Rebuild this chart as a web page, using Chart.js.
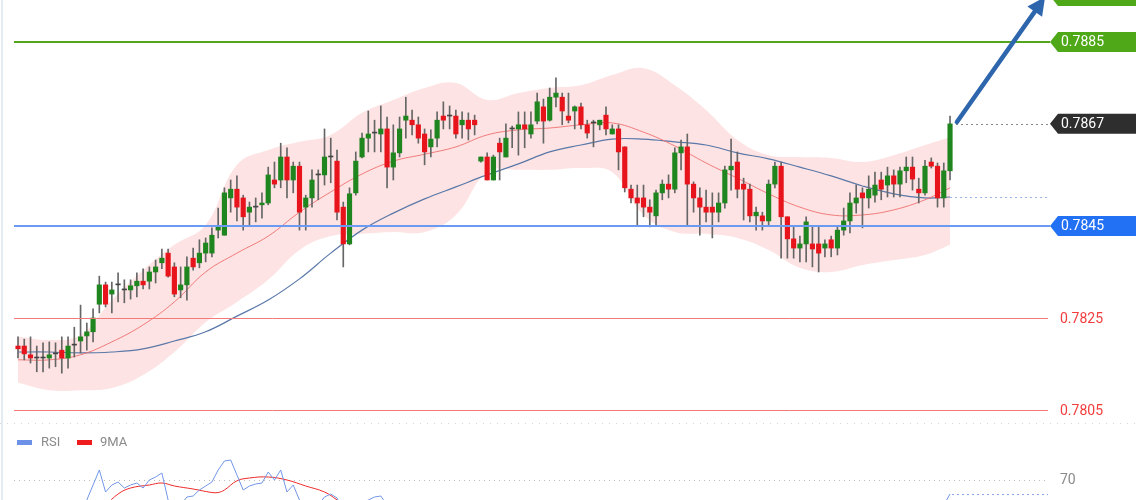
<!DOCTYPE html>
<html>
<head>
<meta charset="utf-8">
<script src="https://cdn.jsdelivr.net/npm/chart.js@4.4.1/dist/chart.umd.min.js"></script>
<style>
html, body { margin: 0; padding: 0; background: #fff; }
#wrap { width: 1140px; height: 500px; position: relative; }
</style>
</head>
<body>
<div id="wrap"><canvas id="myChart"></canvas></div>
<script>
// candles (oldest first)
const open = [
0.78189,0.78189,0.78170,0.78163,0.78163,0.78163,0.78172,0.78180,0.78163,0.78191,
0.78200,0.78211,0.78220,0.78280,0.78322,0.78302,0.78322,0.78311,0.78311,0.78320,
0.78330,0.78330,0.78350,0.78370,0.78391,0.78361,0.78311,0.78322,0.78380,0.78370,
0.78391,0.78391,0.78441,0.78430,0.78511,0.78530,0.78511,0.78480,0.78491,0.78496,
0.78500,0.78550,0.78550,0.78600,0.78550,0.78580,0.78491,0.78511,0.78561,0.78561,
0.78600,0.78591,0.78491,0.78411,0.78522,0.78600,0.78641,0.78652,0.78650,0.78661,
0.78578,0.78609,0.78680,0.78680,0.78670,0.78650,0.78622,0.78641,0.78689,0.78689,
0.78689,0.78670,0.78680,0.78680,0.78591,0.78600,0.78550,0.78630,0.78600,0.78661,
0.78661,0.78670,0.78650,0.78678,0.78709,0.78680,0.78730,0.78730,0.78689,0.78700,
0.78709,0.78670,0.78674,0.78670,0.78691,0.78650,0.78661,0.78622,0.78530,0.78511,
0.78511,0.78491,0.78472,0.78522,0.78541,0.78530,0.78609,0.78622,0.78541,0.78511,
0.78491,0.78491,0.78480,0.78500,0.78572,0.78589,0.78541,0.78530,0.78472,0.78472,
0.78461,0.78541,0.78580,0.78470,0.78422,0.78402,0.78411,0.78411,0.78411,0.78402,
0.78420,0.78402,0.78441,0.78461,0.78500,0.78522,0.78511,0.78517,0.78550,0.78539,
0.78559,0.78541,0.78570,0.78578,0.78530,0.78522,0.78589,0.78580,0.78511,0.78570];
const high = [
0.78209,0.78204,0.78209,0.78189,0.78196,0.78198,0.78196,0.78209,0.78209,0.78230,
0.78278,0.78239,0.78270,0.78341,0.78328,0.78328,0.78348,0.78333,0.78333,0.78348,
0.78357,0.78361,0.78376,0.78400,0.78400,0.78370,0.78361,0.78383,0.78402,0.78420,
0.78424,0.78446,0.78489,0.78533,0.78550,0.78559,0.78517,0.78502,0.78511,0.78522,
0.78578,0.78589,0.78630,0.78620,0.78589,0.78589,0.78517,0.78572,0.78572,0.78661,
0.78641,0.78615,0.78502,0.78533,0.78611,0.78652,0.78700,0.78680,0.78711,0.78687,
0.78670,0.78687,0.78730,0.78702,0.78687,0.78661,0.78659,0.78698,0.78720,0.78711,
0.78702,0.78698,0.78696,0.78691,0.78600,0.78609,0.78604,0.78641,0.78672,0.78667,
0.78698,0.78698,0.78698,0.78739,0.78726,0.78750,0.78772,0.78739,0.78739,0.78711,
0.78717,0.78680,0.78680,0.78680,0.78709,0.78670,0.78670,0.78622,0.78539,0.78539,
0.78539,0.78507,0.78528,0.78550,0.78561,0.78620,0.78637,0.78650,0.78546,0.78533,
0.78528,0.78522,0.78522,0.78580,0.78639,0.78611,0.78554,0.78541,0.78491,0.78480,
0.78550,0.78589,0.78589,0.78470,0.78448,0.78428,0.78470,0.78448,0.78448,0.78420,
0.78428,0.78448,0.78489,0.78522,0.78539,0.78533,0.78559,0.78567,0.78567,0.78578,
0.78572,0.78578,0.78600,0.78600,0.78554,0.78593,0.78598,0.78587,0.78587,0.78689];
const low = [
0.78163,0.78159,0.78152,0.78133,0.78133,0.78141,0.78144,0.78130,0.78141,0.78165,
0.78174,0.78180,0.78198,0.78261,0.78274,0.78261,0.78285,0.78283,0.78291,0.78296,
0.78313,0.78313,0.78326,0.78357,0.78339,0.78296,0.78294,0.78289,0.78354,0.78359,
0.78372,0.78383,0.78424,0.78430,0.78480,0.78461,0.78441,0.78450,0.78459,0.78467,
0.78496,0.78533,0.78533,0.78511,0.78522,0.78441,0.78441,0.78491,0.78507,0.78539,
0.78544,0.78463,0.78361,0.78409,0.78517,0.78598,0.78611,0.78611,0.78611,0.78533,
0.78550,0.78600,0.78641,0.78648,0.78630,0.78583,0.78600,0.78622,0.78661,0.78661,
0.78641,0.78641,0.78637,0.78648,0.78589,0.78550,0.78550,0.78550,0.78600,0.78620,
0.78604,0.78620,0.78641,0.78672,0.78630,0.78678,0.78709,0.78670,0.78674,0.78661,
0.78661,0.78641,0.78622,0.78659,0.78648,0.78650,0.78572,0.78524,0.78500,0.78452,
0.78470,0.78448,0.78450,0.78507,0.78511,0.78522,0.78572,0.78450,0.78480,0.78430,
0.78459,0.78424,0.78459,0.78489,0.78528,0.78511,0.78463,0.78459,0.78441,0.78441,
0.78452,0.78533,0.78380,0.78380,0.78380,0.78372,0.78372,0.78361,0.78350,0.78383,
0.78383,0.78387,0.78430,0.78435,0.78478,0.78446,0.78489,0.78502,0.78507,0.78513,
0.78513,0.78513,0.78544,0.78528,0.78500,0.78517,0.78576,0.78491,0.78491,0.78550];
const close = [
0.78183,0.78172,0.78163,0.78163,0.78165,0.78170,0.78174,0.78163,0.78189,0.78191,
0.78209,0.78220,0.78250,0.78322,0.78280,0.78311,0.78322,0.78311,0.78320,0.78330,
0.78322,0.78350,0.78361,0.78380,0.78341,0.78302,0.78322,0.78361,0.78361,0.78391,
0.78413,0.78430,0.78448,0.78522,0.78530,0.78491,0.78470,0.78491,0.78491,0.78500,
0.78561,0.78541,0.78600,0.78550,0.78580,0.78480,0.78511,0.78550,0.78561,0.78600,
0.78600,0.78480,0.78411,0.78520,0.78591,0.78641,0.78650,0.78652,0.78661,0.78578,
0.78609,0.78661,0.78689,0.78670,0.78641,0.78611,0.78639,0.78680,0.78680,0.78689,
0.78650,0.78680,0.78661,0.78670,0.78600,0.78550,0.78600,0.78611,0.78641,0.78661,
0.78670,0.78661,0.78670,0.78720,0.78678,0.78730,0.78739,0.78700,0.78680,0.78709,
0.78670,0.78652,0.78674,0.78680,0.78661,0.78661,0.78611,0.78533,0.78511,0.78500,
0.78491,0.78480,0.78522,0.78541,0.78530,0.78609,0.78622,0.78541,0.78511,0.78491,
0.78480,0.78480,0.78500,0.78572,0.78580,0.78530,0.78530,0.78472,0.78480,0.78461,
0.78541,0.78580,0.78470,0.78422,0.78402,0.78411,0.78459,0.78400,0.78391,0.78411,
0.78402,0.78441,0.78461,0.78500,0.78511,0.78511,0.78530,0.78539,0.78530,0.78559,
0.78541,0.78570,0.78578,0.78552,0.78522,0.78580,0.78580,0.78511,0.78570,0.78672];

// bollinger band + averages, read every 5 candles
const bandIdx = [0,5,10,15,20,25,30,35,40,45,50,55,60,65,70,75,80,85,90,95,100,105,110,115,120,125,130,135,140,145,149];
const upperBand = [0.78209,0.78202,0.78213,0.78289,0.78354,0.78409,0.78452,0.78583,0.78615,0.78633,0.78648,0.78696,0.78724,0.78750,0.78761,0.78724,0.78739,0.78750,0.78756,0.78778,0.78793,0.78756,0.78702,0.78637,0.78604,0.78600,0.78598,0.78589,0.78604,0.78626,0.78643];
const lowerBand = [0.78109,0.78093,0.78093,0.78098,0.78126,0.78176,0.78241,0.78285,0.78333,0.78398,0.78428,0.78433,0.78437,0.78437,0.78474,0.78567,0.78572,0.78572,0.78576,0.78567,0.78474,0.78437,0.78433,0.78424,0.78398,0.78359,0.78350,0.78365,0.78376,0.78387,0.78409];
const midLine = [0.78159,0.78159,0.78170,0.78198,0.78235,0.78285,0.78350,0.78391,0.78428,0.78480,0.78524,0.78563,0.78591,0.78606,0.78622,0.78648,0.78659,0.78663,0.78670,0.78674,0.78654,0.78624,0.78587,0.78554,0.78520,0.78491,0.78474,0.78474,0.78485,0.78507,0.78533];
const slowLine = [0.78176,0.78176,0.78174,0.78176,0.78183,0.78200,0.78220,0.78254,0.78289,0.78335,0.78391,0.78441,0.78478,0.78509,0.78535,0.78561,0.78585,0.78611,0.78626,0.78639,0.78639,0.78633,0.78626,0.78609,0.78596,0.78578,0.78559,0.78537,0.78520,0.78511,0.78513];

// RSI panel (only the part that shows)
const rsiIdx = [10,11,12,13,14,15,16,17,18,19,20,21,22,23,24,25,26,27,28,29,30,31,32,33,34,35,36,37,38,39,40,41,42,43,44,45,46,47,48,49,50,51,52,53,54,55,56,57,58,59,60,100,146,147,148,149];
const rsiVal = [52,58,67,76,62.8,67,68.8,65.2,67,68.2,65.2,70,71.8,74.2,58,50.8,55,59.8,60.4,64,66.4,68.8,76,81.4,82,73,64,66.4,67.6,68.2,74.8,70,76,62.8,67,58,52,50,55,59.8,61.6,59.2,52,48,52,56,58,59.8,60.4,55,50,null,45,49,55,61.6];
const maIdx = [13,14,16,18,21,23,25,28,31,32,33,35,37,40,43,46,49,51,53,56];
const maVal = [49,54.4,61.6,65.2,67,68.2,66.4,64.6,62.5,62.5,64,69.5,71.2,71.8,70,66.4,62.8,58,52,45];
const rsiLevel = 70;

// price levels and the forecast arrow
const resistances = [0.7895, 0.7885];
const supports = [0.7845];
const minorLevels = [0.7825, 0.7805];
const arrowX = [150.1, 164.2];
const arrowY = [0.78676, 0.78948];

const idx = open.map((_, i) => i);
const pts = (xs, ys) => xs.map((v, k) => ({x: v, y: ys[k]}));

function tag(ctx, yp, text, color) {
    ctx.fillStyle = color;
    ctx.beginPath();
    ctx.moveTo(1050, yp);
    ctx.lineTo(1058, yp - 10);
    ctx.lineTo(1136, yp - 10);
    ctx.lineTo(1136, yp + 10);
    ctx.lineTo(1058, yp + 10);
    ctx.closePath();
    ctx.fill();
    ctx.fillStyle = '#fff';
    ctx.fillText(text, 1061, yp + 1);
}

function hline(ctx, yp, x0, x1, color, width, dash) {
    ctx.save();
    ctx.strokeStyle = color;
    ctx.lineWidth = width;
    ctx.setLineDash(dash || []);
    ctx.beginPath();
    ctx.moveTo(x0, yp);
    ctx.lineTo(x1, yp);
    ctx.stroke();
    ctx.restore();
}

const overlay = {
    id: 'overlay',
    beforeDatasetsDraw(chart) {
        const ctx = chart.ctx;
        ctx.save();
        ctx.fillStyle = '#e4ebf2';
        ctx.fillRect(1, 0, 2, 500);
        ctx.restore();
        hline(ctx, 423.5, 0, 1140, '#d6d6d6', 1, [1, 6]);
        hline(ctx, Math.round(chart.scales.y2.getPixelForValue(rsiLevel)) + 0.5, 14, 1048, '#bbbbbb', 1, [1, 4]);
    },
    afterDatasetsDraw(chart) {
        const {ctx, scales: {x, y, y2}} = chart;
        const last = close.length - 1;
        ctx.save();
        ctx.font = '14px Roboto, "Open Sans", sans-serif';
        ctx.textBaseline = 'middle';

        // current price and slow average guides
        hline(ctx, Math.round(y.getPixelForValue(close[last])) + 0.5, x.getPixelForValue(last) + 6, 1048, '#888', 1, [2, 3]);
        hline(ctx, Math.round(y.getPixelForValue(slowLine[slowLine.length - 1])) + 0.5, x.getPixelForValue(last), 1048, '#9bb3e8', 1, [2, 3]);
        hline(ctx, Math.round(y2.getPixelForValue(rsiVal[rsiVal.length - 1])) + 0.5, x.getPixelForValue(last) + 2, 1048, '#8aa6ee', 1, [2, 3]);

        resistances.forEach(v => {
            const yp = y.getPixelForValue(v);
            hline(ctx, yp, 14, 1050, '#52a61c', 2);
            tag(ctx, yp, v.toFixed(4), '#4ea818');
        });
        supports.forEach(v => {
            const yp = y.getPixelForValue(v);
            hline(ctx, yp, 14, 1050, '#6a9af2', 2);
            tag(ctx, yp, v.toFixed(4), '#2270f4');
        });
        minorLevels.forEach(v => {
            const yp = Math.round(y.getPixelForValue(v)) + 0.5;
            hline(ctx, yp, 14, 1048, '#f47a7a', 1);
            ctx.fillStyle = '#f23c3c';
            ctx.fillText(v.toFixed(4), 1060, yp + 1);
        });
        tag(ctx, y.getPixelForValue(close[last]), close[last].toFixed(4), '#2e2e2e');

        // RSI side label and legend
        ctx.fillStyle = '#8a8a8a';
        ctx.fillText(String(rsiLevel), 1060, y2.getPixelForValue(rsiLevel));
        ctx.font = '13px Roboto, "Open Sans", sans-serif';
        ctx.fillStyle = '#6d91e6';
        ctx.fillRect(17, 440, 15, 5);
        ctx.fillStyle = '#ee1c1c';
        ctx.fillRect(77, 440, 15, 5);
        ctx.fillStyle = '#8a8a8a';
        ctx.fillText('RSI', 41, 443);
        ctx.fillText('9MA', 100, 443);

        // arrow
        const x0 = x.getPixelForValue(arrowX[0]), y0 = y.getPixelForValue(arrowY[0]);
        const x1 = x.getPixelForValue(arrowX[1]), y1 = y.getPixelForValue(arrowY[1]);
        const len = Math.hypot(x1 - x0, y1 - y0);
        const ux = (x1 - x0) / len, uy = (y1 - y0) / len;
        ctx.strokeStyle = '#2e66ad';
        ctx.fillStyle = '#2e66ad';
        ctx.lineWidth = 4.5;
        ctx.lineCap = 'round';
        ctx.beginPath();
        ctx.moveTo(x0, y0);
        ctx.lineTo(x1 - ux * 14, y1 - uy * 14);
        ctx.stroke();
        ctx.beginPath();
        ctx.moveTo(x1, y1);
        ctx.lineTo(x1 - ux * 18 - uy * 9, y1 - uy * 18 + ux * 9);
        ctx.lineTo(x1 - ux * 18 + uy * 9, y1 - uy * 18 - ux * 9);
        ctx.closePath();
        ctx.fill();
        ctx.restore();
    }
};

new Chart(document.getElementById('myChart'), {
    type: 'bar',
    data: {
        datasets: [
            {type: 'line', data: pts(bandIdx, upperBand), borderWidth: 0, pointRadius: 0, tension: 0.4, fill: false, order: 10},
            {type: 'line', data: pts(bandIdx, lowerBand), borderWidth: 0, pointRadius: 0, tension: 0.4,
                fill: '-1', backgroundColor: 'rgba(248,168,168,0.32)', order: 9},
            {type: 'line', data: pts(bandIdx, midLine), borderColor: 'rgba(240,105,105,0.85)', borderWidth: 1,
                pointRadius: 0, tension: 0.4, order: 5},
            {type: 'line', data: pts(bandIdx, slowLine), borderColor: '#5a78a8', borderWidth: 1.2,
                pointRadius: 0, tension: 0.4, order: 5},
            {data: idx.map(i => ({x: i, y: [low[i], high[i]]})), backgroundColor: '#666', barThickness: 1,
                grouped: false, order: 2},
            {data: idx.map(i => ({x: i, y: [open[i], close[i]]})),
                backgroundColor: idx.map(i => Math.abs(close[i] - open[i]) < 0.00004 ? '#444' :
                    (close[i] > open[i] ? '#1f861f' : '#e8141b')),
                barThickness: 4.5, minBarLength: 1, grouped: false, order: 1},
            {type: 'line', yAxisID: 'y2', data: pts(rsiIdx, rsiVal), borderColor: '#7296e8', borderWidth: 1,
                pointRadius: 0, spanGaps: false, order: 0},
            {type: 'line', yAxisID: 'y2', data: pts(maIdx, maVal), borderColor: '#f02a2a', borderWidth: 1,
                pointRadius: 0, tension: 0.4, order: 0}
        ]
    },
    options: {
        responsive: true,
        maintainAspectRatio: false,
        animation: false,
        events: [],
        layout: {padding: 0},
        plugins: {legend: {display: false}, tooltip: {enabled: false}},
        scales: {
            x: {type: 'linear', min: -2.878, max: 179.37, offset: false, display: false},
            y: {min: 0.778543, max: 0.789413, display: false},
            y2: {type: 'linear', min: 58, max: 358, display: false}
        }
    },
    plugins: [overlay]
});
</script>
</body>
</html>
